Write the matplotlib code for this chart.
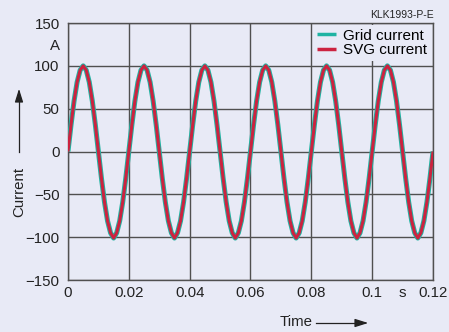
import matplotlib.pyplot as plt
import numpy as np

plt.rcParams['font.family'] = ['Liberation Sans', 'DejaVu Sans']

period_vals = [0, 31, 59, 81, 95, 100, 95, 81, 59, 31,
               0, -31, -59, -81, -95, -101, -95, -81, -59, -31]
n_periods = 6
dt = 0.001
grid_current = np.array(period_vals * n_periods + [0], dtype=float)
svg_current = grid_current.copy()
t = np.arange(len(grid_current)) * dt

x_ticks = [0, 0.02, 0.04, 0.06, 0.08, 0.1, 0.12]
x_labels = ['0', '0.02', '0.04', '0.06', '0.08', '0.1', '0.12']
y_ticks = [-150, -100, -50, 0, 50, 100, 150]
y_labels = ['\u2212150', '\u2212100', '\u221250', '0', '50', '100', '150']

bg = '#e8eaf6'
teal = '#1fb3a2'
red = '#cc2340'
gridc = '#505050'

fig = plt.figure(figsize=(4.49, 3.32), dpi=100, facecolor=bg)
ax = fig.add_axes([0.1514, 0.1566, 0.813, 0.774])
ax.set_facecolor(bg)

ax.plot(t, grid_current, color=teal, lw=3.6, label='Grid current', solid_capstyle='butt', zorder=3)
ax.plot(t, svg_current, color=red, lw=2.2, label='SVG current', solid_capstyle='butt', zorder=4)

ax.set_xlim(0, 0.12)
ax.set_ylim(-150, 150)
ax.set_xticks(x_ticks)
ax.set_xticklabels(x_labels)
ax.set_yticks(y_ticks)
ax.set_yticklabels(y_labels)
ax.set_xticks([0.11], minor=True)
ax.set_xticklabels(['s'], minor=True)
ax.set_yticks([125], minor=True)
ax.set_yticklabels(['A'], minor=True)
ax.tick_params(which='both', length=0, labelsize=10.8, colors='#222222', pad=4)
ax.tick_params(axis='y', which='both', pad=6)
ax.grid(True, which='major', color=gridc, lw=1.0)
for s in ax.spines.values():
    s.set_color(gridc)
    s.set_linewidth(1.0)
ax.set_axisbelow(True)

leg = ax.legend(loc='upper right', frameon=True, fontsize=11, handlelength=1.2,
                handletextpad=0.5, borderpad=0.25, labelspacing=0.05,
                borderaxespad=0.12, fancybox=False)
leg.get_frame().set_facecolor(bg)
leg.get_frame().set_edgecolor('none')
leg.get_frame().set_alpha(1)
for line in leg.get_lines():
    line.set_linewidth(2.5)

fig.text(434 / 449, 1 - 15 / 332, 'KLK1993-P-E', ha='right', va='center', fontsize=7.5, color='#222222')

fig.text(19 / 449, 1 - 192 / 332, 'Current', rotation=90, ha='center', va='center', fontsize=10.8, color='#222222')
fig.add_artist(plt.Line2D([19 / 449, 19 / 449], [1 - 152 / 332, 1 - 95 / 332], color='#222222', lw=0.9))
ax.annotate('', xy=(19 / 449, 1 - 86 / 332), xytext=(19 / 449, 1 - 100 / 332),
            xycoords='figure fraction',
            arrowprops=dict(arrowstyle='-|>,head_length=0.8,head_width=0.25', color='#222222', lw=0.9))

fig.text(296 / 449, 1 - 322 / 332, 'Time', ha='center', va='center', fontsize=10.8, color='#222222')
fig.add_artist(plt.Line2D([316 / 449, 360 / 449], [1 - 323 / 332, 1 - 323 / 332], color='#222222', lw=0.9))
ax.annotate('', xy=(371 / 449, 1 - 323 / 332), xytext=(355 / 449, 1 - 323 / 332),
            xycoords='figure fraction',
            arrowprops=dict(arrowstyle='-|>,head_length=0.8,head_width=0.25', color='#222222', lw=0.9))

fig.savefig('out.png', dpi=100, facecolor=bg)
